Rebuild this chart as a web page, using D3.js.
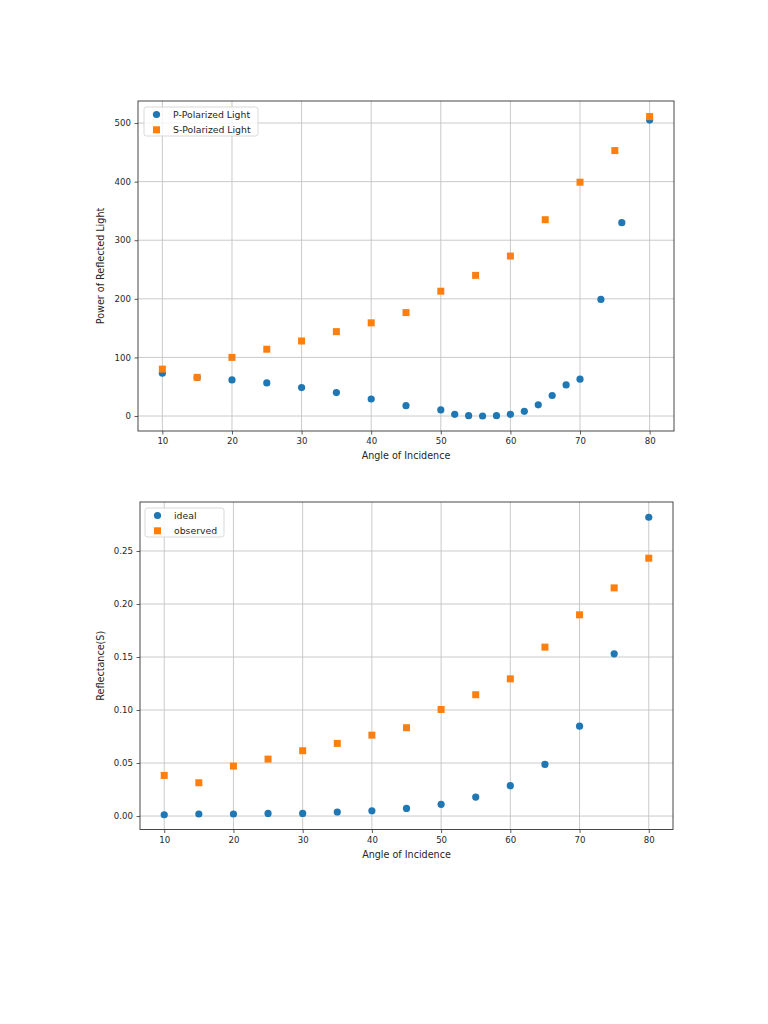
<!DOCTYPE html>
<html>
<head>
<meta charset="utf-8">
<script src="https://cdn.jsdelivr.net/npm/d3@7"></script>
<style>
  html, body { margin: 0; padding: 0; background: #fff; }
  svg { display: block; }
  text { font-family: "DejaVu Sans", sans-serif; fill: #262626; }
</style>
</head>
<body>
<svg id="chart" width="768" height="1024"></svg>
<script>
// ---- Top chart data ----
const pAngles = [10, 15, 20, 25, 30, 35, 40, 45, 50, 52, 54, 56, 58, 60, 62, 64, 66, 68, 70, 73, 76, 80];
const pPower  = [73, 65.5, 61.5, 56.5, 48.5, 40, 29, 17.6, 10.3, 2.8, 0.6, 0, 0.6, 2.8, 8, 19, 35, 53, 62.8, 199, 330, 505];
const sAngles = [10, 15, 20, 25, 30, 35, 40, 45, 50, 55, 60, 65, 70, 75, 80];
const sPower  = [80, 66, 100, 114, 128, 144, 159, 176.5, 213, 240, 273, 335, 399, 453, 511];
const topYTicks = [0, 100, 200, 300, 400, 500];

// ---- Bottom chart data ----
const rAngles   = [10, 15, 20, 25, 30, 35, 40, 45, 50, 55, 60, 65, 70, 75, 80];
const rIdeal    = [0.0012, 0.0019, 0.0019, 0.0025, 0.0025, 0.0038, 0.005, 0.0072, 0.011, 0.0179, 0.0286, 0.0487, 0.0848, 0.153, 0.2818];
const rObserved = [0.0383, 0.0314, 0.0471, 0.0537, 0.0616, 0.0685, 0.0763, 0.0833, 0.1005, 0.1144, 0.1294, 0.1593, 0.1898, 0.2152, 0.2432];
const botYTicks = [0.00, 0.05, 0.10, 0.15, 0.20, 0.25];

const xTicks = [10, 20, 30, 40, 50, 60, 70, 80];
const BLUE = "#1f77b4", ORANGE = "#ff7f0e";

const svg = d3.select("#chart");
svg.append("rect").attr("width", 768).attr("height", 1024).attr("fill", "#fff");

function drawChart(cfg) {
  const g = svg.append("g");
  const x = d3.scaleLinear().domain(cfg.xDomain).range([cfg.left, cfg.right]);
  const y = d3.scaleLinear().domain(cfg.yDomain).range([cfg.bottom, cfg.top]);

  // grid
  g.append("g").selectAll("line").data(xTicks).join("line")
    .attr("x1", d => x(d)).attr("x2", d => x(d))
    .attr("y1", cfg.top).attr("y2", cfg.bottom)
    .attr("stroke", "#c4c4c4").attr("stroke-width", 0.9);
  g.append("g").selectAll("line").data(cfg.yTicks).join("line")
    .attr("y1", d => y(d)).attr("y2", d => y(d))
    .attr("x1", cfg.left).attr("x2", cfg.right)
    .attr("stroke", "#c4c4c4").attr("stroke-width", 0.9);

  // axes
  const xAxis = d3.axisBottom(x).tickValues(xTicks).tickSize(3.5).tickPadding(3.5).tickFormat(d3.format("d"));
  const yAxis = d3.axisLeft(y).tickValues(cfg.yTicks).tickSize(3.5).tickPadding(3.5).tickFormat(cfg.yFormat);
  const gx = g.append("g").attr("transform", `translate(0,${cfg.bottom})`).call(xAxis);
  const gy = g.append("g").attr("transform", `translate(${cfg.left},0)`).call(yAxis);
  [gx, gy].forEach(a => {
    a.select(".domain").remove();
    a.selectAll(".tick line").attr("stroke", "#333").attr("stroke-width", 0.8);
    a.selectAll(".tick text").attr("font-size", "8.6px").attr("fill", "#333")
      .style("font-family", '"DejaVu Sans", sans-serif');
  });

  // frame
  g.append("rect").attr("x", cfg.left).attr("y", cfg.top)
    .attr("width", cfg.right - cfg.left).attr("height", cfg.bottom - cfg.top)
    .attr("fill", "none").attr("stroke", "#333").attr("stroke-width", 0.9);

  // points
  const r = 3.6, s = 7;
  g.append("g").selectAll("circle").data(d3.zip(cfg.s1x, cfg.s1y)).join("circle")
    .attr("cx", d => x(d[0])).attr("cy", d => y(d[1])).attr("r", r).attr("fill", BLUE);
  g.append("g").selectAll("rect").data(d3.zip(cfg.s2x, cfg.s2y)).join("rect")
    .attr("x", d => x(d[0]) - s / 2).attr("y", d => y(d[1]) - s / 2)
    .attr("width", s).attr("height", s).attr("fill", ORANGE);

  // labels
  g.append("text").attr("x", (cfg.left + cfg.right) / 2).attr("y", cfg.bottom + 28)
    .attr("text-anchor", "middle").attr("font-size", "9.6px").attr("fill", "#333").text("Angle of Incidence");
  g.append("text")
    .attr("transform", `translate(${cfg.ylabelX},${(cfg.top + cfg.bottom) / 2}) rotate(-90)`)
    .attr("text-anchor", "middle").attr("font-size", "9.6px").attr("fill", "#333").text(cfg.ylabel);

  // legend
  const L = cfg.legend;
  g.append("rect").attr("x", L.x).attr("y", L.y).attr("width", L.w).attr("height", 29)
    .attr("rx", 2.5).attr("fill", "#fff").attr("fill-opacity", 0.8)
    .attr("stroke", "#d5d5d5").attr("stroke-width", 0.9);
  const rows = [[cfg.names[0], "c"], [cfg.names[1], "s"]];
  rows.forEach((row, i) => {
    const cy = L.y + 7.5 + i * 15.3;
    if (row[1] === "c") {
      g.append("circle").attr("cx", L.x + 12.5).attr("cy", cy).attr("r", r).attr("fill", BLUE);
    } else {
      g.append("rect").attr("x", L.x + 12.5 - s / 2).attr("y", cy - s / 2)
        .attr("width", s).attr("height", s).attr("fill", ORANGE);
    }
    g.append("text").attr("x", L.x + 29).attr("y", cy + 3.3)
      .attr("font-size", "9.3px").attr("fill", "#333").text(row[0]);
  });
}

drawChart({
  left: 138, right: 674, top: 101, bottom: 431,
  xDomain: [6.5, 83.5], yDomain: [-25.6, 537.6],
  yTicks: topYTicks, yFormat: d3.format("d"),
  s1x: pAngles, s1y: pPower, s2x: sAngles, s2y: sPower,
  ylabel: "Power of Reflected Light", ylabelX: 104,
  names: ["P-Polarized Light", "S-Polarized Light"],
  legend: { x: 144, y: 107, w: 114 }
});

drawChart({
  left: 140, right: 673, top: 502, bottom: 829.5,
  xDomain: [6.5, 83.5], yDomain: [-0.0127, 0.2962],
  yTicks: botYTicks, yFormat: d3.format(".2f"),
  s1x: rAngles, s1y: rIdeal, s2x: rAngles, s2y: rObserved,
  ylabel: "Reflectance(S)", ylabelX: 104,
  names: ["ideal", "observed"],
  legend: { x: 145, y: 508, w: 79 }
});
</script>
</body>
</html>
